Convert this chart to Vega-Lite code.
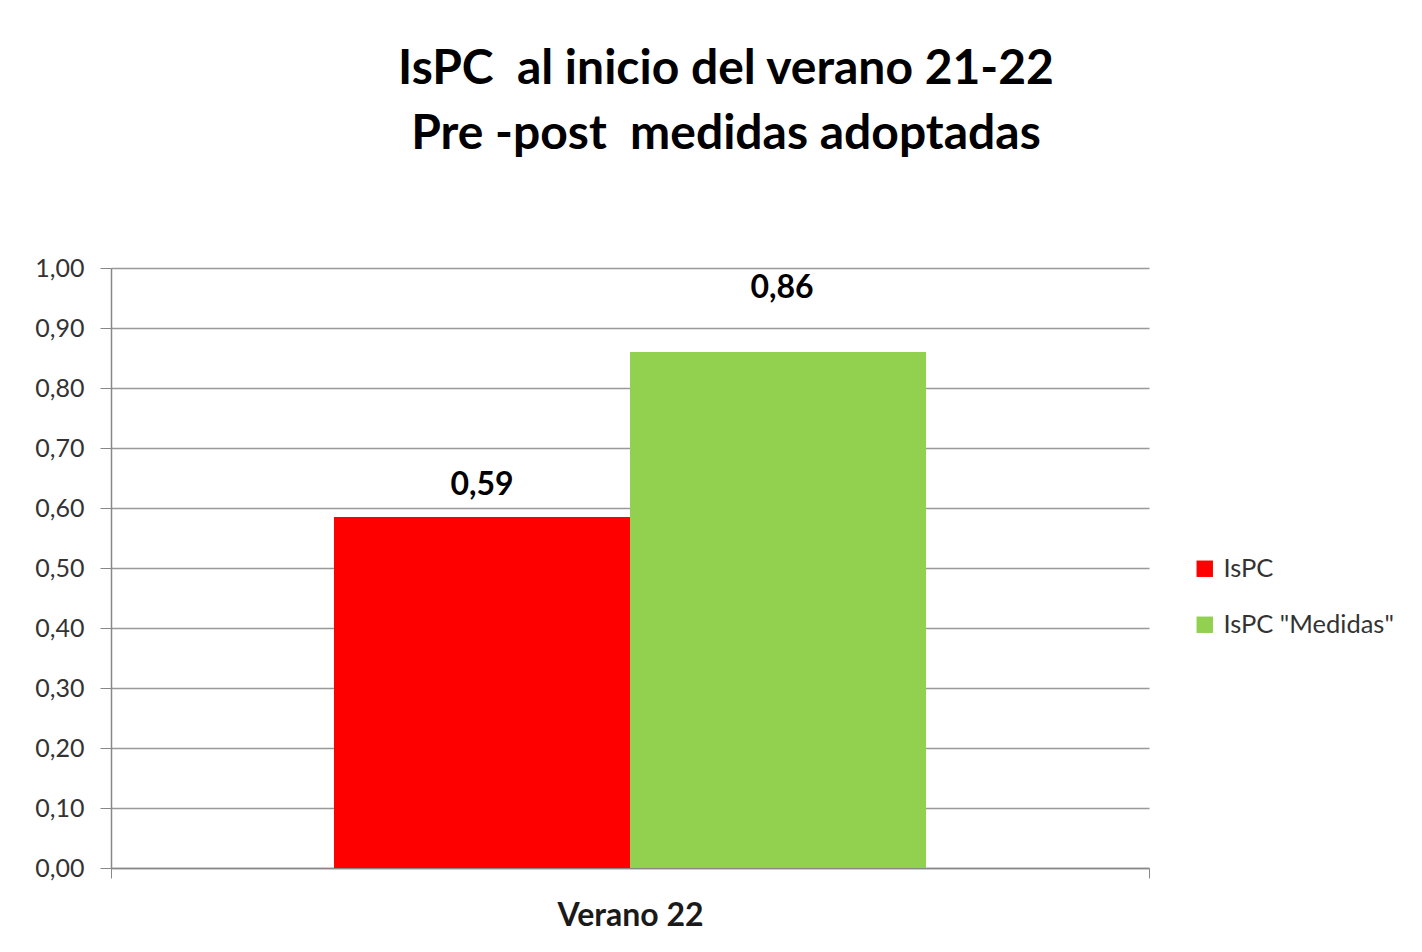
{
  "$schema": "https://vega.github.io/schema/vega-lite/v6.json",
  "width": 1038,
  "height": 600,
  "autosize": {"type": "none"},
  "padding": {"left": 111, "top": 268, "right": 273, "bottom": 84},
  "background": "white",
  "config": {
    "locale": {"number": {"decimal": ",", "thousands": ".", "grouping": [3], "currency": ["", " €"]}},
    "view": {"stroke": null},
    "font": "Lato"
  },
  "title": {
    "text": ["IsPC\u00a0 al inicio del verano 21-22", "Pre -post\u00a0 medidas adoptadas"],
    "fontSize": 48,
    "font": "Lato",
    "fontWeight": "bold",
    "color": "#000000",
    "lineHeight": 65,
    "anchor": "middle",
    "dx": 96,
    "offset": 97
  },
  "data": {
    "values": [
      {"cat": "Verano 22", "serie": "IsPC", "valor": 0.585, "etiqueta": 0.59},
      {"cat": "Verano 22", "serie": "IsPC \"Medidas\"", "valor": 0.86, "etiqueta": 0.86}
    ]
  },
  "encoding": {
    "x": {
      "field": "cat", "type": "nominal",
      "scale": {"paddingInner": 0, "paddingOuter": 0},
      "axis": {
        "title": null, "labelAngle": 0, "labelFontSize": 32, "labelFont": "Lato", "labelFontWeight": "bold",
        "labelColor": "#1a1a1a", "labelPadding": 22, "domainColor": "#888888", "domainWidth": 1.5,
        "tickColor": "#888888", "tickSize": 10, "tickBand": "extent", "ticks": true
      }
    },
    "xOffset": {
      "field": "serie", "type": "nominal",
      "scale": {"domain": ["IsPC", "IsPC \"Medidas\""], "paddingInner": 0, "paddingOuter": 0.7534}
    }
  },
  "layer": [
    {
      "mark": {"type": "bar"},
      "encoding": {
        "y": {
          "field": "valor", "type": "quantitative",
          "scale": {"domain": [0, 1], "nice": false},
          "axis": {
            "title": null, "values": [0, 0.1, 0.2, 0.3, 0.4, 0.5, 0.6, 0.7, 0.8, 0.9, 1.0],
            "format": ".2f", "labelFontSize": 25, "labelFont": "Lato", "labelColor": "#333333",
            "labelPadding": 16, "tickSize": 11, "tickColor": "#888888", "domainColor": "#888888",
            "domainWidth": 1.5, "gridColor": "#999999", "gridWidth": 1.5, "grid": true
          }
        },
        "color": {
          "field": "serie", "type": "nominal",
          "scale": {"domain": ["IsPC", "IsPC \"Medidas\""], "range": ["#FF0000", "#92D050"]},
          "legend": {
            "title": null, "orient": "none", "legendX": 1081, "legendY": 288,
            "symbolType": "square", "symbolSize": 270, "symbolStrokeWidth": 0,
            "labelFontSize": 25.5, "labelFont": "Lato", "labelColor": "#333333", "labelLimit": 400,
            "labelOffset": 6, "rowPadding": 29
          }
        }
      }
    },
    {
      "transform": [{"filter": "datum.serie == 'IsPC'"}],
      "mark": {"type": "text", "fontSize": 32, "fontWeight": "bold", "font": "Lato", "color": "#000000", "baseline": "alphabetic", "dy": -22},
      "encoding": {
        "y": {"field": "valor", "type": "quantitative"},
        "text": {"field": "etiqueta", "type": "quantitative", "format": ".2f"}
      }
    },
    {
      "transform": [{"filter": "datum.serie != 'IsPC'"}],
      "mark": {"type": "text", "fontSize": 32, "fontWeight": "bold", "font": "Lato", "color": "#000000", "baseline": "alphabetic", "dy": -54, "dx": 4},
      "encoding": {
        "y": {"field": "valor", "type": "quantitative"},
        "text": {"field": "etiqueta", "type": "quantitative", "format": ".2f"}
      }
    }
  ]
}
